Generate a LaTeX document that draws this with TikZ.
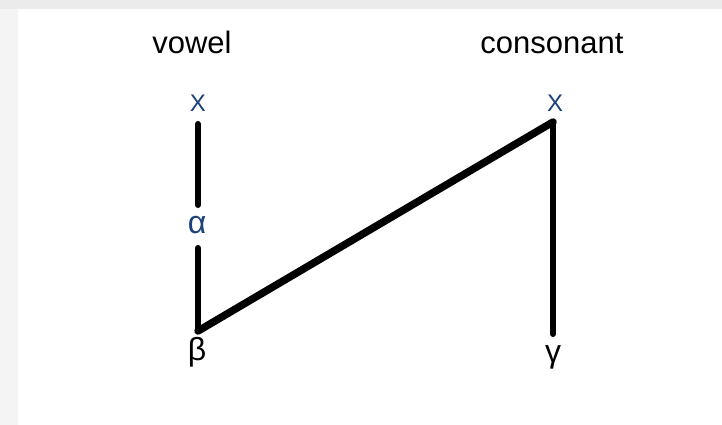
\documentclass[tikz,border=0pt]{standalone}
\usepackage{fontspec}
\setmainfont{Liberation Sans}
\definecolor{lblue}{RGB}{28,64,122}
\definecolor{topgray}{RGB}{235,235,235}
\definecolor{leftgray}{RGB}{244,244,244}
\begin{document}
\begin{tikzpicture}[x=1pt,y=-1pt,
  heading/.style={anchor=base,inner sep=0pt,font=\fontsize{31}{31}\selectfont},
  slot/.style={anchor=base,inner sep=0pt,text=lblue,font=\fontsize{24}{24}\selectfont},
  greek/.style={anchor=base,inner sep=0pt,font=\fontsize{32}{32}\selectfont},
  assoc/.style={line width=6pt,line cap=round},
  diag/.style={line width=7.5pt,line cap=round,line join=round}]
\useasboundingbox (0,0) rectangle (722,425);
\fill[white] (0,0) rectangle (722,425);
\fill[leftgray] (0,0) rectangle (18,425);
\fill[topgray] (0,0) rectangle (722,9);
% headings
\node[heading] (vowel) at (192,54) {vowel};
\node[heading] (cons) at (552,54) {consonant};
% timing slots
\node[slot] (xl) at (198,111) {X};
\node[slot] (xr) at (555,111) {X};
% features
\node[greek,text=lblue] (alpha) at (197,233) {α};
\node[greek] (beta) at (197,360) {β};
\node[greek] (gamma) at (553,362) {γ};
% joints
\coordinate (xlb) at (198,124);
\coordinate (at) at (198,205);
\coordinate (ab) at (198,248);
\coordinate (bt) at (198,331);
\coordinate (xrb) at (553,122);
\coordinate (gt) at (553,334);
% lines
\draw[assoc] (xlb) -- (at);
\draw[assoc] (ab) -- (bt);
\draw[assoc] (xrb) -- (gt);
\draw[diag] (bt) -- (xrb);
\end{tikzpicture}
\end{document}
